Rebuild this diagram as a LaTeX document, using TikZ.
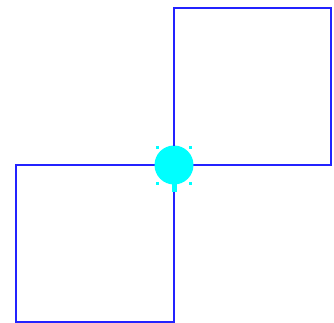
\documentclass[tikz,border=0pt]{standalone}
\definecolor{sqblue}{RGB}{35,35,255}
\definecolor{blob}{RGB}{0,255,255}
\tikzset{
  sq/.style={draw=sqblue, line width=2.2bp, fill=none, inner sep=0pt, outer sep=0pt},
  dot/.style={fill=blob, inner sep=0pt, minimum size=3bp, draw=none}
}
\begin{document}
\begin{tikzpicture}[x=1bp,y=-1bp]
\useasboundingbox (0,0) rectangle (334,323);
\draw[sq] (174,8) rectangle (331,165);
\draw[sq] (16,165) rectangle (174,322);
\node[circle, fill=blob, minimum size=39bp, inner sep=0pt] (c) at (174,165) {};
\fill[blob] (171.5,180) rectangle (176.5,192);
\node[dot] (d1) at (157,147) {};
\node[dot] (d2) at (190,147) {};
\node[dot] (d3) at (157,183) {};
\node[dot] (d4) at (190,183) {};
\draw[sqblue, line width=2.2bp] (174,140) -- (174,146);
\end{tikzpicture}
\end{document}
